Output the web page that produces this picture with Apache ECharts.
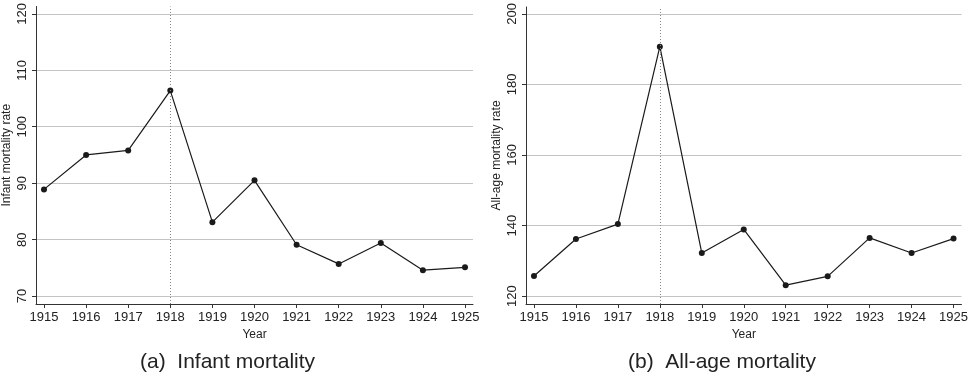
<!DOCTYPE html>
<html>
<head>
<meta charset="utf-8">
<script src="https://cdn.jsdelivr.net/npm/echarts@6/dist/echarts.min.js"></script>
<style>
  html, body { margin: 0; padding: 0; background: #fff; }
  #chart { width: 971px; height: 378px; }
</style>
</head>
<body>
<div id="chart"></div>
<script>
const years = [1915, 1916, 1917, 1918, 1919, 1920, 1921, 1922, 1923, 1924, 1925];
const infantRate = [88.9, 95.0, 95.8, 106.4, 83.1, 90.5, 79.1, 75.7, 79.4, 74.6, 75.1];
const allAgeRate = [125.7, 136.2, 140.4, 190.7, 132.2, 138.9, 123.1, 125.6, 136.5, 132.2, 136.3];
const infantTicks = [70, 80, 90, 100, 110, 120];
const allAgeTicks = [120, 140, 160, 180, 200];
const fluYear = 1918;

const font = "'Liberation Sans', Arial, sans-serif";
const textColor = "#222";

const chart = echarts.init(document.getElementById("chart"));

const xAxisFor = (gridIndex) => ({
  type: "value",
  gridIndex,
  min: 1914.81,
  max: 1925.19,
  name: "Year",
  nameLocation: "middle",
  nameGap: 25,
  nameTextStyle: { fontFamily: font, fontSize: 12, color: textColor },
  axisLine: { show: true, onZero: false, lineStyle: { color: "#333", width: 1 } },
  axisTick: { show: true, length: 4, customValues: years, lineStyle: { color: "#333" } },
  axisLabel: {
    customValues: years,
    margin: 7,
    fontFamily: font,
    fontSize: 13,
    color: textColor,
    formatter: (v) => String(v),
  },
  splitLine: { show: false },
});

const yAxisFor = (gridIndex, name, min, max, ticks) => ({
  type: "value",
  gridIndex,
  min,
  max,
  name,
  nameLocation: "middle",
  nameGap: 23,
  nameTextStyle: { fontFamily: font, fontSize: 12, color: textColor },
  axisLine: { show: true, lineStyle: { color: "#333", width: 1 } },
  axisTick: { show: true, length: 4, customValues: ticks, lineStyle: { color: "#333" } },
  axisLabel: {
    customValues: ticks,
    rotate: 90,
    margin: 7,
    fontFamily: font,
    fontSize: 13,
    color: textColor,
  },
  splitLine: { show: true, lineStyle: { color: "#c4c4c4", width: 1 } },
});

const seriesFor = (index, values) => ({
  type: "line",
  xAxisIndex: index,
  yAxisIndex: index,
  data: years.map((y, i) => [y, values[i]]),
  symbol: "circle",
  symbolSize: 6,
  lineStyle: { color: "#1a1a1a", width: 1.2 },
  itemStyle: { color: "#1a1a1a" },
  silent: true,
  markLine: {
    silent: true,
    symbol: "none",
    label: { show: false },
    lineStyle: { color: "#888", type: [1, 2], width: 1 },
    data: [{ xAxis: fluYear }],
  },
  z: 3,
});

const option = {
  animation: false,
  grid: [
    { left: 34, right: 498, top: 3, bottom: 74 },
    { left: 526, right: 5, top: 3, bottom: 74 },
  ],
  xAxis: [xAxisFor(0), xAxisFor(1)],
  yAxis: [
    yAxisFor(0, "Infant mortality rate", 68.6, 121.3, infantTicks),
    yAxisFor(1, "All-age mortality rate", 117.76, 201.96, allAgeTicks),
  ],
  series: [seriesFor(0, infantRate), seriesFor(1, allAgeRate)],
  graphic: [
    {
      type: "text",
      left: 140,
      top: 352,
      style: { text: "(a)  Infant mortality", fontFamily: font, fontSize: 21, fill: textColor },
    },
    {
      type: "text",
      left: 628,
      top: 352,
      style: { text: "(b)  All-age mortality", fontFamily: font, fontSize: 21, fill: textColor },
    },
  ],
};

chart.setOption(option);
</script>
</body>
</html>
